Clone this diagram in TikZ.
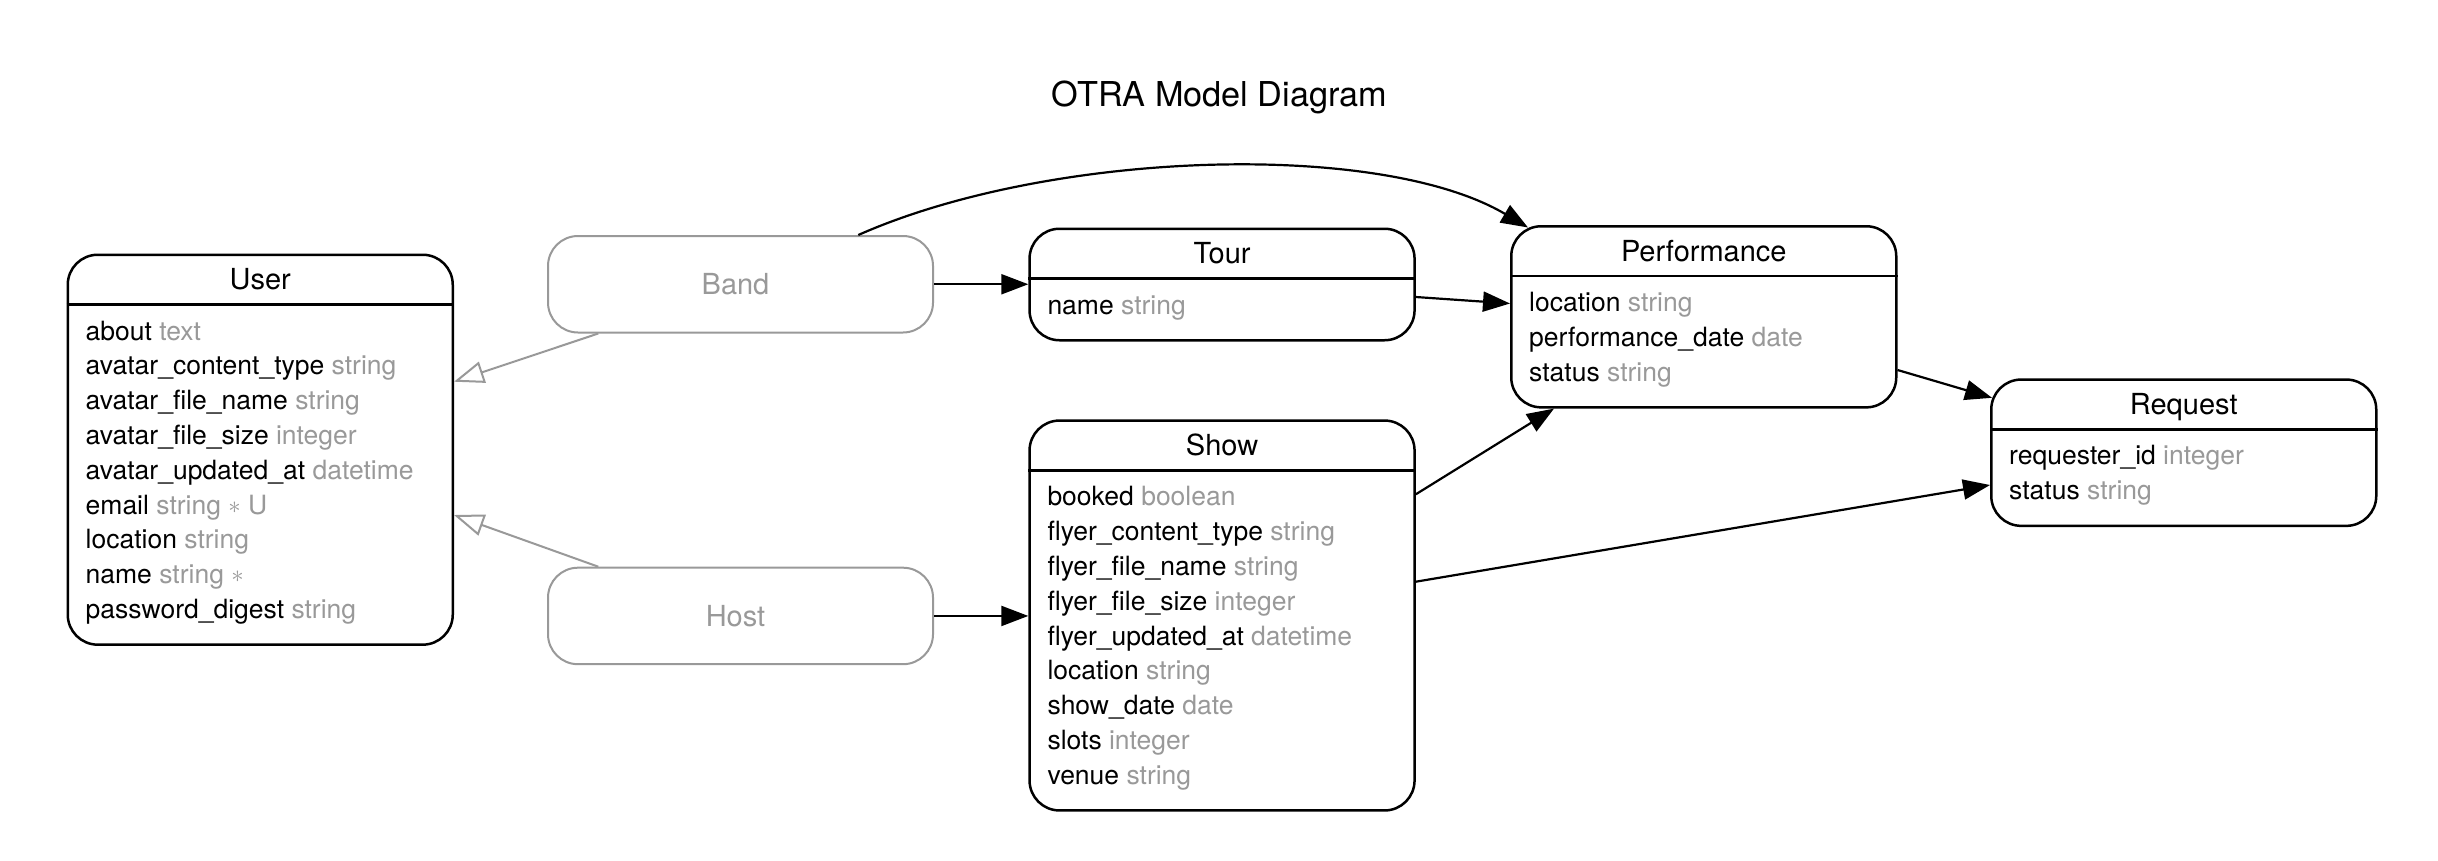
\documentclass[tikz,border=0pt]{standalone}
\usepackage{fontspec}
\setmainfont{TeX Gyre Heros}
\usetikzlibrary{arrows.meta,calc}
\definecolor{attrgray}{RGB}{153,153,153}
\newcommand\attrfont{\fontsize{26.6pt}{30pt}\selectfont}
\newcommand\headfont{\fontsize{29.1pt}{32pt}\selectfont}
\newcommand\bigtitlefont{\fontsize{34.4pt}{38pt}\selectfont}
\newcommand\reqmark{\raisebox{1bp}{\fontsize{23pt}{23pt}\selectfont$\ast$}}
\tikzset{
  entity/.style={draw=black, line width=2.5bp, rounded corners=30bp, anchor=north west,
    minimum width=385bp, inner sep=0pt, fill=white},
  mixin/.style={draw=attrgray, line width=2bp, rounded corners=30bp, anchor=north west,
    minimum width=385bp, minimum height=96.5bp, inner sep=0pt},
  mixinlabel/.style={text=attrgray, font=\headfont, inner sep=0pt},
  etitle/.style={anchor=base, font=\headfont, inner sep=0pt},
  attr/.style={anchor=base west, font=\attrfont, inner sep=0pt},
  diagtitle/.style={anchor=base, font=\bigtitlefont, inner sep=0pt},
  rel/.style={draw=black, line width=2.2bp, -{Triangle[length=27bp,width=20bp]}},
  inh/.style={draw=attrgray, line width=2bp, -{Triangle[open,length=30bp,width=22bp]}},
  hline/.style={draw=black, line width=2.5bp},
}
% #1 name, #2 x, #3 y, #4 height, #5 title, #6 rows
\newcommand\erdentity[6]{%
  \node[entity, minimum height=#4bp] (#1) at (#2,#3) {};
  \draw[hline] ($(#1.north west)+(0,51)$) -- ($(#1.north east)+(0,51)$);
  \node[etitle] (#1-title) at ($(#1.north)+(0,36)$) {#5};
  \foreach \nm/\ty [count=\i from 0] in {#6} {
    \node[attr] (#1-a\i) at ($(#1.north west)+(19,{86.5+34.8*\i})$) {\nm\ \textcolor{attrgray}{\ty}};
  }%
}
\begin{document}
\begin{tikzpicture}[x=1bp,y=-1bp]
\fill[white] (0,0) rectangle (2438,860);
\useasboundingbox (0,0) rectangle (2438,860);

\node[diagtitle] (title) at (1219.5,106.7) {OTRA Model Diagram};

\erdentity{user}{66.5}{253.5}{389.9}{User}{about/text, avatar\_content\_type/string, avatar\_file\_name/string, avatar\_file\_size/integer, avatar\_updated\_at/datetime, email/string \reqmark\ U, location/string, name/string \reqmark, password\_digest/string}

\node[mixin] (band) at (547,235) {};
\node[mixinlabel] (band-label) at ($(band.center)+(-5,0)$) {Band};
\node[mixin] (host) at (547,566.7) {};
\node[mixinlabel] (host-label) at ($(host.center)+(-5,0)$) {Host};

\erdentity{tour}{1028.3}{227.5}{111.5}{Tour}{name/string}

\erdentity{show}{1028.3}{419.3}{389.9}{Show}{booked/boolean, flyer\_content\_type/string, flyer\_file\_name/string, flyer\_file\_size/integer, flyer\_updated\_at/datetime, location/string, show\_date/date, slots/integer, venue/string}

\erdentity{perf}{1510}{225}{181.1}{Performance}{location/string, performance\_date/date, status/string}

\erdentity{request}{1990}{378.3}{146.3}{Request}{requester\_id/integer, status/string}

% inheritance
\draw[inh] ($(band.south west)+(51.3,0)$) -- ($(user.north east)+(0,128.2)$);
\draw[inh] ($(host.north west)+(51.3,0)$) -- ($(user.north east)+(0,261.5)$);

% relations
\draw[rel] (band.east) -- (band.east -| tour.west);
\draw[rel] (host.east) -- (host.east -| show.west);
\draw[rel] ($(band.north west)+(311.3,0)$) .. controls (1050,150) and (1380,140) .. ($(perf.north west)+(18,2.5)$);
\draw[rel] ($(tour.east)+(0,12.5)$) -- ($(perf.west)+(0,-13.3)$);
\draw[rel] ($(show.north east)+(0,75)$) -- ($(perf.south west)+(44,0)$);
\draw[rel] ($(show.north east)+(0,162.4)$) -- ($(request.north west)+(0,106.7)$);
\draw[rel] ($(perf.north east)+(0,145)$) -- ($(request.north west)+(2,19.5)$);
\end{tikzpicture}
\end{document}
